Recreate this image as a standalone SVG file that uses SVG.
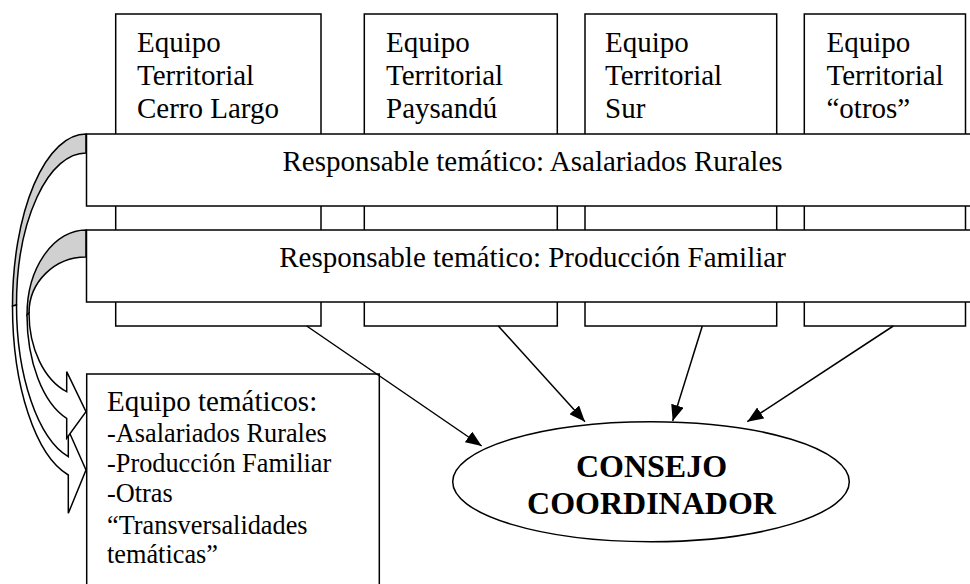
<svg xmlns="http://www.w3.org/2000/svg" width="970" height="584" viewBox="0 0 970 584">
<style>
.box{fill:#fff;stroke:#000;stroke-width:1.5}
.t{font-family:"Liberation Serif","Times New Roman",serif;font-size:29px;fill:#000}
.s{font-family:"Liberation Serif","Times New Roman",serif;font-size:26.3px;fill:#000}
.b{font-family:"Liberation Serif","Times New Roman",serif;font-size:32px;font-weight:bold;fill:#000;text-anchor:middle}
.back{fill:#d0d0d0;stroke:#000;stroke-width:1.5;stroke-linejoin:miter}
.front{fill:#fff;stroke:#000;stroke-width:1.5;stroke-linejoin:miter}
.conn{stroke:#000;stroke-width:1.5;fill:none;marker-end:url(#ah)}
</style>
<defs>
<marker id="ah" markerUnits="userSpaceOnUse" markerWidth="17" markerHeight="13" refX="16" refY="6.5" orient="auto">
<path d="M0,0 L16,6.5 L0,13 Z" fill="#000"/>
</marker>
</defs>

<g id="curved-arrows">
<g id="curved-arrow-asalariados">
<path class="back" d="M86,134 A73.5,172 0 0 0 12.5,306 L16.5,305 A69.5,152 0 0 1 86,153 Z"/>
<path class="front" d="M12.5,306 A73.5,174 0 0 0 68.3,475 L68.3,513.3 L86,470 L68.3,430 L68.3,456.7 A69.5,157 0 0 1 16.5,305 Z"/>
</g>
<g id="curved-arrow-produccion">
<path class="back" d="M86,230 A59,85 0 0 0 27,315 L29,313 A57,56 0 0 1 86,257 Z"/>
<path class="front" d="M27,315 A59,109.3 0 0 0 66.7,418.3 L66.7,438.3 L86,411.7 L66.7,371.7 L66.7,391.7 A57,83.6 0 0 1 29,313 Z"/>
</g>
</g>

<g id="et-cerro-largo">
<rect class="box" x="115.7" y="14" width="205.3" height="312"/>
<text class="t" x="137" y="51.7">Equipo</text>
<text class="t" x="137" y="85">Territorial</text>
<text class="t" x="137" y="118.3">Cerro Largo</text>
</g>
<g id="et-paysandu">
<rect class="box" x="364.3" y="14" width="193" height="312"/>
<text class="t" x="386" y="51.7">Equipo</text>
<text class="t" x="386" y="85">Territorial</text>
<text class="t" x="386" y="118.3">Paysandú</text>
</g>
<g id="et-sur">
<rect class="box" x="585" y="14" width="191.7" height="312"/>
<text class="t" x="605" y="51.7">Equipo</text>
<text class="t" x="605" y="85">Territorial</text>
<text class="t" x="605" y="118.3">Sur</text>
</g>
<g id="et-otros">
<rect class="box" x="804.3" y="14" width="161.2" height="312"/>
<text class="t" x="826.5" y="51.7">Equipo</text>
<text class="t" x="826.5" y="85">Territorial</text>
<text class="t" x="826.5" y="118.3">“otros”</text>
</g>

<g id="resp-asalariados">
<rect class="box" x="86.5" y="134" width="895" height="72"/>
<text class="t" x="532.5" y="171.3" text-anchor="middle">Responsable temático: Asalariados Rurales</text>
</g>
<g id="resp-produccion">
<rect class="box" x="86.5" y="230" width="895" height="72"/>
<text class="t" x="532.5" y="267.3" text-anchor="middle">Responsable temático: Producción Familiar</text>
</g>

<g id="equipo-tematicos">
<rect class="box" x="86.7" y="374" width="292.6" height="220"/>
<text class="t" x="107" y="410.7">Equipo temáticos:</text>
<text class="s" x="107" y="441.7">-Asalariados Rurales</text>
<text class="s" x="107" y="471.7">-Producción Familiar</text>
<text class="s" x="107" y="501.7">-Otras</text>
<text class="s" x="107" y="534">“Transversalidades</text>
<text class="s" x="107" y="563.3">temáticas”</text>
</g>

<g id="consejo">
<ellipse class="box" cx="651" cy="481.7" rx="198.3" ry="60"/>
<text class="b" x="651.5" y="476.7">CONSEJO</text>
<text class="b" x="651.5" y="514">COORDINADOR</text>
</g>

<g id="connectors">
<line class="conn" x1="306.7" y1="326" x2="481.7" y2="446"/>
<line class="conn" x1="498.3" y1="326" x2="585" y2="421.7"/>
<line class="conn" x1="702.3" y1="326" x2="672.7" y2="421"/>
<line class="conn" x1="893.3" y1="326" x2="747.3" y2="421.7"/>
</g>
</svg>
